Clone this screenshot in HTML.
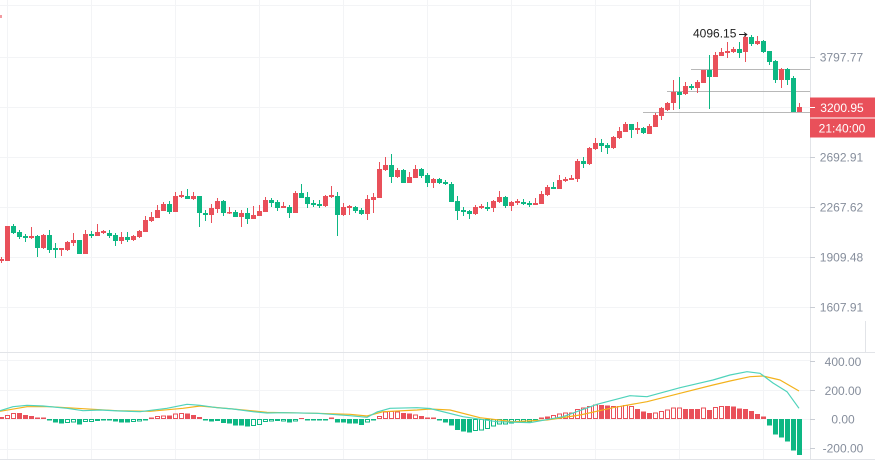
<!DOCTYPE html>
<html><head><meta charset="utf-8"><style>
html,body{margin:0;padding:0;background:#fff;width:875px;height:460px;overflow:hidden}
svg{display:block}
text{font-family:"Liberation Sans",sans-serif;font-size:12px}
</style></head><body>
<svg width="875" height="460" viewBox="0 0 875 460" xmlns="http://www.w3.org/2000/svg">
<rect width="875" height="460" fill="#fff"/>
<!-- grid -->
<g stroke="#f3f4f6" stroke-width="1">
<path d="M7.5 0V460M91.5 0V460M175.5 0V460M259.5 0V460M343.5 0V460M427.5 0V460M511.5 0V460M595.5 0V460M679.5 0V460M763.5 0V460"/>
<path d="M0 5.5H810M0 57.5H810M0 107.5H810M0 157.5H810M0 207.5H810M0 257.5H810M0 307.5H810"/>
<path d="M0 360.5H810M0 390.5H810M0 419.5H810M0 449.5H810"/>
</g>
<!-- separators -->
<g stroke="#e2e4e8" stroke-width="1">
<path d="M0 352.5H875M0 459.5H875M810.5 0V460M865.5 321V352"/>
</g>
<rect x="0" y="15" width="2" height="3" fill="#f29aa0"/>
<!-- position lines -->
<g stroke="#b8b8b8" stroke-width="1">
<path d="M691 69.5H810M667 91.5H810M643 112.5H810"/>
</g>
<!-- red candles wicks -->
<path stroke="#e9505a" stroke-width="1" fill="none" d="M1.5 257V263M7.5 226V261M31.5 227V239M43.5 234V249M61.5 248V256M67.5 241V251M73.5 233V246M85.5 230V254M97.5 224V236M103.5 230V234M121.5 232V244M133.5 235V241M139.5 230V238M145.5 216V232M151.5 212V222M157.5 205V218M163.5 202V211M175.5 192V212M181.5 191V198M193.5 192V200M211.5 204V223M217.5 198V213M229.5 207V214M241.5 210V227M253.5 206V219M259.5 205V216M265.5 197V212M283.5 202V208M295.5 191V213M325.5 195V207M331.5 186V198M343.5 203V216M349.5 205V215M367.5 195V220M373.5 193V213M379.5 162V198M385.5 157V171M397.5 168V178M409.5 172V183M415.5 165V178M433.5 178V188M475.5 205V215M481.5 204V209M493.5 200V212M499.5 191V203M511.5 201V211M517.5 199V205M535.5 198V205M541.5 191V204M547.5 185V196M559.5 175V189M565.5 177V182M571.5 175V180M577.5 159V182M589.5 147V165M595.5 138V150M613.5 136V149M619.5 127V139M625.5 122V132M637.5 122V134M649.5 124V134M655.5 113V127M661.5 107V120M667.5 102V111M673.5 80V110M685.5 82V95M697.5 80V93M703.5 70V83M715.5 52V77M721.5 48V56M727.5 42V58M733.5 47V53M745.5 35V62M757.5 36V45M781.5 68V88M799.5 103V112"/>
<g fill="#e9505a">
<rect x="-1" y="259" width="5" height="2"/><rect x="5" y="226" width="5" height="35"/><rect x="29" y="236" width="5" height="2"/><rect x="41" y="235" width="5" height="13"/><rect x="59" y="248" width="5" height="2"/><rect x="65" y="242" width="5" height="8"/><rect x="71" y="240" width="5" height="3"/><rect x="83" y="234" width="5" height="20"/><rect x="95" y="232" width="5" height="4"/><rect x="101" y="231" width="5" height="2"/><rect x="119" y="237" width="5" height="4"/><rect x="131" y="236" width="5" height="4"/><rect x="137" y="231" width="5" height="6"/><rect x="143" y="220" width="5" height="12"/><rect x="149" y="217" width="5" height="4"/><rect x="155" y="210" width="5" height="8"/><rect x="161" y="204" width="5" height="7"/><rect x="173" y="196" width="5" height="16"/><rect x="179" y="195" width="5" height="2"/><rect x="191" y="196" width="5" height="3"/><rect x="209" y="208" width="5" height="7"/><rect x="215" y="201" width="5" height="8"/><rect x="227" y="212" width="5" height="1.5"/><rect x="239" y="213" width="5" height="4"/><rect x="251" y="215" width="5" height="4"/><rect x="257" y="211" width="5" height="5"/><rect x="263" y="200" width="5" height="12"/><rect x="281" y="206" width="5" height="2"/><rect x="293" y="193" width="5" height="20"/><rect x="323" y="196" width="5" height="10"/><rect x="329" y="195" width="5" height="2"/><rect x="341" y="207" width="5" height="8"/><rect x="347" y="206" width="5" height="2"/><rect x="365" y="199" width="5" height="15"/><rect x="371" y="197" width="5" height="3"/><rect x="377" y="169" width="5" height="29"/><rect x="383" y="165" width="5" height="5"/><rect x="395" y="170" width="5" height="7"/><rect x="407" y="177" width="5" height="6"/><rect x="413" y="169" width="5" height="9"/><rect x="431" y="179" width="5" height="4"/><rect x="473" y="207" width="5" height="7"/><rect x="479" y="206" width="5" height="2"/><rect x="491" y="201" width="5" height="7"/><rect x="497" y="197" width="5" height="5"/><rect x="509" y="202" width="5" height="4"/><rect x="515" y="201" width="5" height="2"/><rect x="533" y="203" width="5" height="2"/><rect x="539" y="194" width="5" height="10"/><rect x="545" y="187" width="5" height="8"/><rect x="557" y="180" width="5" height="9"/><rect x="563" y="179" width="5" height="2"/><rect x="569" y="178" width="5" height="2"/><rect x="575" y="161" width="5" height="18"/><rect x="587" y="148" width="5" height="16"/><rect x="593" y="143" width="5" height="6"/><rect x="611" y="137" width="5" height="11"/><rect x="617" y="131" width="5" height="7"/><rect x="623" y="124" width="5" height="8"/><rect x="635" y="128" width="5" height="2"/><rect x="647" y="126" width="5" height="8"/><rect x="653" y="115" width="5" height="12"/><rect x="659" y="108" width="5" height="8"/><rect x="665" y="103" width="5" height="7"/><rect x="671" y="92" width="5" height="11"/><rect x="683" y="86" width="5" height="8"/><rect x="695" y="82" width="5" height="6"/><rect x="701" y="70" width="5" height="13"/><rect x="713" y="55" width="5" height="22"/><rect x="719" y="52" width="5" height="4"/><rect x="725" y="51" width="5" height="2"/><rect x="731" y="49" width="5" height="3"/><rect x="743" y="37" width="5" height="15"/><rect x="755" y="41" width="5" height="3"/><rect x="779" y="69" width="5" height="11"/><rect x="797" y="107" width="5" height="5"/>
</g>
<!-- green candles -->
<path stroke="#0db783" stroke-width="1" fill="none" d="M13.5 224V234M19.5 230V239M25.5 234V242M37.5 235V257M49.5 230V253M55.5 243V258M79.5 240V254M91.5 231V238M109.5 230V238M115.5 233V246M127.5 232V242M169.5 201V214M187.5 189V199M199.5 196V227M205.5 210V221M223.5 200V216M235.5 210V217M247.5 208V224M271.5 198V207M277.5 200V211M289.5 205V218M301.5 184V198M307.5 192V208M313.5 200V207M319.5 200V208M337.5 192V236M355.5 206V213M361.5 208V215M391.5 154V183M403.5 169V183M421.5 168V178M427.5 173V187M439.5 178V184M445.5 180V185M451.5 182V202M457.5 196V220M463.5 207V216M469.5 210V219M487.5 202V211M505.5 196V208M523.5 199V205M529.5 201V207M553.5 182V189M583.5 157V168M601.5 139V152M607.5 143V154M631.5 124V138M643.5 127V134M679.5 77V109M691.5 84V90M709.5 55V109M739.5 42V58M751.5 35V46M763.5 40V53M769.5 51V65M775.5 60V83M787.5 68V85M793.5 76V112"/>
<g fill="#0db783">
<rect x="11" y="226" width="5" height="7"/><rect x="17" y="232" width="5" height="5"/><rect x="23" y="236" width="5" height="2"/><rect x="35" y="236" width="5" height="12"/><rect x="47" y="235" width="5" height="15"/><rect x="53" y="248" width="5" height="2"/><rect x="77" y="240" width="5" height="14"/><rect x="89" y="234" width="5" height="2"/><rect x="107" y="233" width="5" height="3"/><rect x="113" y="235" width="5" height="6"/><rect x="125" y="237" width="5" height="3"/><rect x="167" y="204" width="5" height="8"/><rect x="185" y="196" width="5" height="3"/><rect x="197" y="196" width="5" height="17"/><rect x="203" y="213" width="5" height="2"/><rect x="221" y="201" width="5" height="12"/><rect x="233" y="212" width="5" height="5"/><rect x="245" y="213" width="5" height="6"/><rect x="269" y="200" width="5" height="3"/><rect x="275" y="202" width="5" height="6"/><rect x="287" y="207" width="5" height="6"/><rect x="299" y="193" width="5" height="5"/><rect x="305" y="197" width="5" height="7"/><rect x="311" y="203" width="5" height="2"/><rect x="317" y="204" width="5" height="2"/><rect x="335" y="196" width="5" height="19"/><rect x="353" y="207" width="5" height="4"/><rect x="359" y="210" width="5" height="4"/><rect x="389" y="165" width="5" height="12"/><rect x="401" y="170" width="5" height="13"/><rect x="419" y="169" width="5" height="7"/><rect x="425" y="175" width="5" height="8"/><rect x="437" y="179" width="5" height="4"/><rect x="443" y="182" width="5" height="2"/><rect x="449" y="184" width="5" height="18"/><rect x="455" y="201" width="5" height="10"/><rect x="461" y="210" width="5" height="2"/><rect x="467" y="211" width="5" height="3"/><rect x="485" y="207" width="5" height="2"/><rect x="503" y="197" width="5" height="9"/><rect x="521" y="202" width="5" height="2"/><rect x="527" y="203" width="5" height="2"/><rect x="551" y="187" width="5" height="2"/><rect x="581" y="161" width="5" height="3"/><rect x="599" y="143" width="5" height="3"/><rect x="605" y="145" width="5" height="3"/><rect x="629" y="124" width="5" height="6"/><rect x="641" y="128" width="5" height="5"/><rect x="677" y="92" width="5" height="3"/><rect x="689" y="86" width="5" height="2"/><rect x="707" y="70" width="5" height="7"/><rect x="737" y="49" width="5" height="4"/><rect x="749" y="37" width="5" height="7"/><rect x="761" y="41" width="5" height="11"/><rect x="767" y="51" width="5" height="11"/><rect x="773" y="61" width="5" height="19"/><rect x="785" y="69" width="5" height="11"/><rect x="791" y="78" width="5" height="34"/>
</g>
<!-- annotation -->
<text x="693" y="37.5" fill="#222">4096.15</text>
<path d="M739 34.5H746.5M744 32.5L746.8 34.5L744 36.5" stroke="#222" stroke-width="1" fill="none"/>
<!-- MACD histogram filled red -->
<g fill="#e9505a">
<rect x="-1" y="417" width="5" height="2"/><rect x="17" y="413" width="5" height="6"/><rect x="23" y="415" width="5" height="4"/><rect x="29" y="416" width="5" height="3"/><rect x="35" y="417.5" width="5" height="1.5"/><rect x="41" y="417.5" width="5" height="1.5"/><rect x="149" y="417.5" width="5" height="1.5"/><rect x="167" y="415.5" width="5" height="3.5"/><rect x="185" y="413.5" width="5" height="5.5"/><rect x="191" y="415" width="5" height="4"/><rect x="197" y="417" width="5" height="2"/><rect x="299" y="418" width="5" height="1"/><rect x="329" y="417.5" width="5" height="1.5"/><rect x="401" y="413" width="5" height="6"/><rect x="407" y="413.5" width="5" height="5.5"/><rect x="419" y="416" width="5" height="3"/><rect x="425" y="417.5" width="5" height="1.5"/><rect x="431" y="417.5" width="5" height="1.5"/><rect x="539" y="417.5" width="5" height="1.5"/><rect x="545" y="416.5" width="5" height="2.5"/><rect x="599" y="405" width="5" height="14"/><rect x="605" y="405.5" width="5" height="13.5"/><rect x="635" y="409" width="5" height="10"/><rect x="641" y="411.5" width="5" height="7.5"/><rect x="647" y="413" width="5" height="6"/><rect x="683" y="409" width="5" height="10"/><rect x="689" y="409" width="5" height="10"/><rect x="695" y="409" width="5" height="10"/><rect x="707" y="410" width="5" height="9"/><rect x="725" y="406" width="5" height="13"/><rect x="731" y="406.5" width="5" height="12.5"/><rect x="737" y="408.5" width="5" height="10.5"/><rect x="743" y="409" width="5" height="10"/><rect x="749" y="411" width="5" height="8"/><rect x="755" y="414" width="5" height="5"/><rect x="761" y="416.5" width="5" height="2.5"/>
</g>
<!-- hollow red -->
<g fill="none" stroke="#e9505a" stroke-width="1">
<rect x="5.5" y="415.5" width="4" height="3"/><rect x="11.5" y="413.5" width="4" height="5"/><rect x="155.5" y="416.5" width="4" height="2"/><rect x="161.5" y="416" width="4" height="2.5"/><rect x="173.5" y="414" width="4" height="4.5"/><rect x="179.5" y="413.5" width="4" height="5"/><rect x="377.5" y="416.5" width="4" height="2"/><rect x="383.5" y="412" width="4" height="6.5"/><rect x="389.5" y="411.5" width="4" height="7"/><rect x="395.5" y="412" width="4" height="6.5"/><rect x="413.5" y="415" width="4" height="3.5"/><rect x="551.5" y="415.5" width="4" height="3"/><rect x="557.5" y="414" width="4" height="4.5"/><rect x="563.5" y="413" width="4" height="5.5"/><rect x="569.5" y="413" width="4" height="5.5"/><rect x="575.5" y="409.5" width="4" height="9"/><rect x="581.5" y="408" width="4" height="10.5"/><rect x="587.5" y="406.5" width="4" height="12"/><rect x="593.5" y="405" width="4" height="13.5"/><rect x="611.5" y="406.5" width="4" height="12"/><rect x="617.5" y="406.5" width="4" height="12"/><rect x="623.5" y="405.5" width="4" height="13"/><rect x="629.5" y="406.5" width="4" height="12"/><rect x="653.5" y="413" width="4" height="5.5"/><rect x="659.5" y="411.5" width="4" height="7"/><rect x="665.5" y="410" width="4" height="8.5"/><rect x="671.5" y="408" width="4" height="10.5"/><rect x="677.5" y="408" width="4" height="10.5"/><rect x="701.5" y="408" width="4" height="10.5"/><rect x="713.5" y="407.5" width="4" height="11"/><rect x="719.5" y="406.5" width="4" height="12"/>
</g>
<!-- filled green hist -->
<g fill="#0db783">
<rect x="47" y="419" width="5" height="1.5"/><rect x="53" y="419" width="5" height="3.5"/><rect x="59" y="419" width="5" height="4.5"/><rect x="77" y="419" width="5" height="5.5"/><rect x="101" y="419" width="5" height="1.5"/><rect x="107" y="419" width="5" height="1.5"/><rect x="113" y="419" width="5" height="2.5"/><rect x="119" y="419" width="5" height="3.5"/><rect x="125" y="419" width="5" height="3.5"/><rect x="143" y="419" width="5" height="1.5"/><rect x="203" y="419" width="5" height="1.5"/><rect x="209" y="419" width="5" height="2.5"/><rect x="221" y="419" width="5" height="4"/><rect x="227" y="419" width="5" height="4.5"/><rect x="233" y="419" width="5" height="6.5"/><rect x="239" y="419" width="5" height="6.5"/><rect x="245" y="419" width="5" height="7.5"/><rect x="287" y="419" width="5" height="3.5"/><rect x="305" y="419" width="5" height="1.5"/><rect x="311" y="419" width="5" height="1.5"/><rect x="317" y="419" width="5" height="1.5"/><rect x="323" y="419" width="5" height="1.5"/><rect x="335" y="419" width="5" height="3.5"/><rect x="341" y="419" width="5" height="3.5"/><rect x="347" y="419" width="5" height="4.5"/><rect x="353" y="419" width="5" height="4.5"/><rect x="359" y="419" width="5" height="6"/><rect x="371" y="419" width="5" height="1.5"/><rect x="437" y="419" width="5" height="1.5"/><rect x="443" y="419" width="5" height="3.5"/><rect x="449" y="419" width="5" height="6.5"/><rect x="455" y="419" width="5" height="11"/><rect x="461" y="419" width="5" height="12.5"/><rect x="467" y="419" width="5" height="13.5"/><rect x="533" y="419" width="5" height="1.5"/><rect x="767" y="419" width="5" height="6.5"/><rect x="773" y="419" width="5" height="15.5"/><rect x="779" y="419" width="5" height="18.5"/><rect x="785" y="419" width="5" height="22.5"/><rect x="791" y="419" width="5" height="31.5"/><rect x="797" y="419" width="5" height="36"/>
</g>
<!-- hollow green hist -->
<g fill="none" stroke="#0db783" stroke-width="1">
<rect x="65.5" y="419.5" width="4" height="3"/><rect x="71.5" y="419.5" width="4" height="2.5"/><rect x="83.5" y="419.5" width="4" height="2"/><rect x="89.5" y="419.5" width="4" height="2"/><rect x="95.5" y="419.5" width="4" height="1"/><rect x="131.5" y="419.5" width="4" height="2"/><rect x="137.5" y="419.5" width="4" height="1.5"/><rect x="215.5" y="419.5" width="4" height="1"/><rect x="251.5" y="419.5" width="4" height="6"/><rect x="257.5" y="419.5" width="4" height="5"/><rect x="263.5" y="419.5" width="4" height="2"/><rect x="269.5" y="419.5" width="4" height="1.5"/><rect x="275.5" y="419.5" width="4" height="1"/><rect x="281.5" y="419.5" width="4" height="1.5"/><rect x="293.5" y="419.5" width="4" height="1.5"/><rect x="365.5" y="419.5" width="4" height="2.5"/><rect x="473.5" y="419.5" width="4" height="11"/><rect x="479.5" y="419.5" width="4" height="10.5"/><rect x="485.5" y="419.5" width="4" height="9"/><rect x="491.5" y="419.5" width="4" height="6.5"/><rect x="497.5" y="419.5" width="4" height="4.5"/><rect x="503.5" y="419.5" width="4" height="4.5"/><rect x="509.5" y="419.5" width="4" height="3.5"/><rect x="515.5" y="419.5" width="4" height="2.5"/><rect x="521.5" y="419.5" width="4" height="2.5"/><rect x="527.5" y="419.5" width="4" height="2.5"/>
</g>
<!-- DEA orange -->
<polyline fill="none" stroke="#f3b21c" stroke-width="1.2" stroke-linejoin="round" points="0,411.3 27,406.7 50,406.7 83,408.7 117,410.7 150,411.3 183,408.3 200,406 233,409 267,412.3 317,413.3 350,414.3 367,416 383,411.7 417,410 430,409 450,410 480,417.7 513,421.7 547,420 580,415 613,407.7 647,401.7 680,393.3 713,385 730,381 750,376.7 763,376 780,380 799,391"/>
<!-- DIF teal -->
<polyline fill="none" stroke="#4fd3bb" stroke-width="1.2" stroke-linejoin="round" points="0,410.7 13,406.7 27,405.3 43,406 67,408.3 83,410.7 100,410 120,411 140,411.7 167,408.3 187,404.3 200,405.3 217,407.7 233,409 253,411.7 267,413 283,412.7 317,413.3 350,415.7 367,417.3 377,412 390,408.3 417,407.7 430,408.5 463,416.7 497,421.7 530,422.7 563,416.7 597,404.3 630,395.7 647,396.7 680,387.7 713,380 730,375 747,371.7 760,373.3 773,383 787,391.7 799,408.3"/>
<!-- axis ticks -->
<g stroke="#c9cdd4" stroke-width="1">
<path d="M810 57.5H815M810 157.5H815M810 207.5H815M810 257.5H815M810 307.5H815M810 361.5H815M810 390.5H815M810 419.5H815M810 448.5H815"/>
</g>
<!-- price axis labels -->
<g fill="#868e9c" text-anchor="middle">
<text x="841.5" y="61.6">3797.77</text>
<text x="841.5" y="161.6">2692.91</text>
<text x="841.5" y="211.6">2267.62</text>
<text x="841.5" y="261.6">1909.48</text>
<text x="841.5" y="311.6">1607.91</text>
<text x="843" y="365.8">400.00</text>
<text x="843" y="394.8">200.00</text>
<text x="843" y="423.6">0.00</text>
<text x="843" y="452.6">-200.00</text>
</g>
<!-- current price labels -->
<rect x="810" y="97.5" width="65" height="20" fill="#e9505a"/>
<rect x="810" y="118.5" width="65" height="19" fill="#e9505a"/>
<path d="M810 107.5H815" stroke="#fff" stroke-width="1"/>
<g fill="#fff" text-anchor="middle">
<text x="842" y="111.9">3200.95</text>
<text x="842" y="132.3">21:40:00</text>
</g>
</svg>
</body></html>
